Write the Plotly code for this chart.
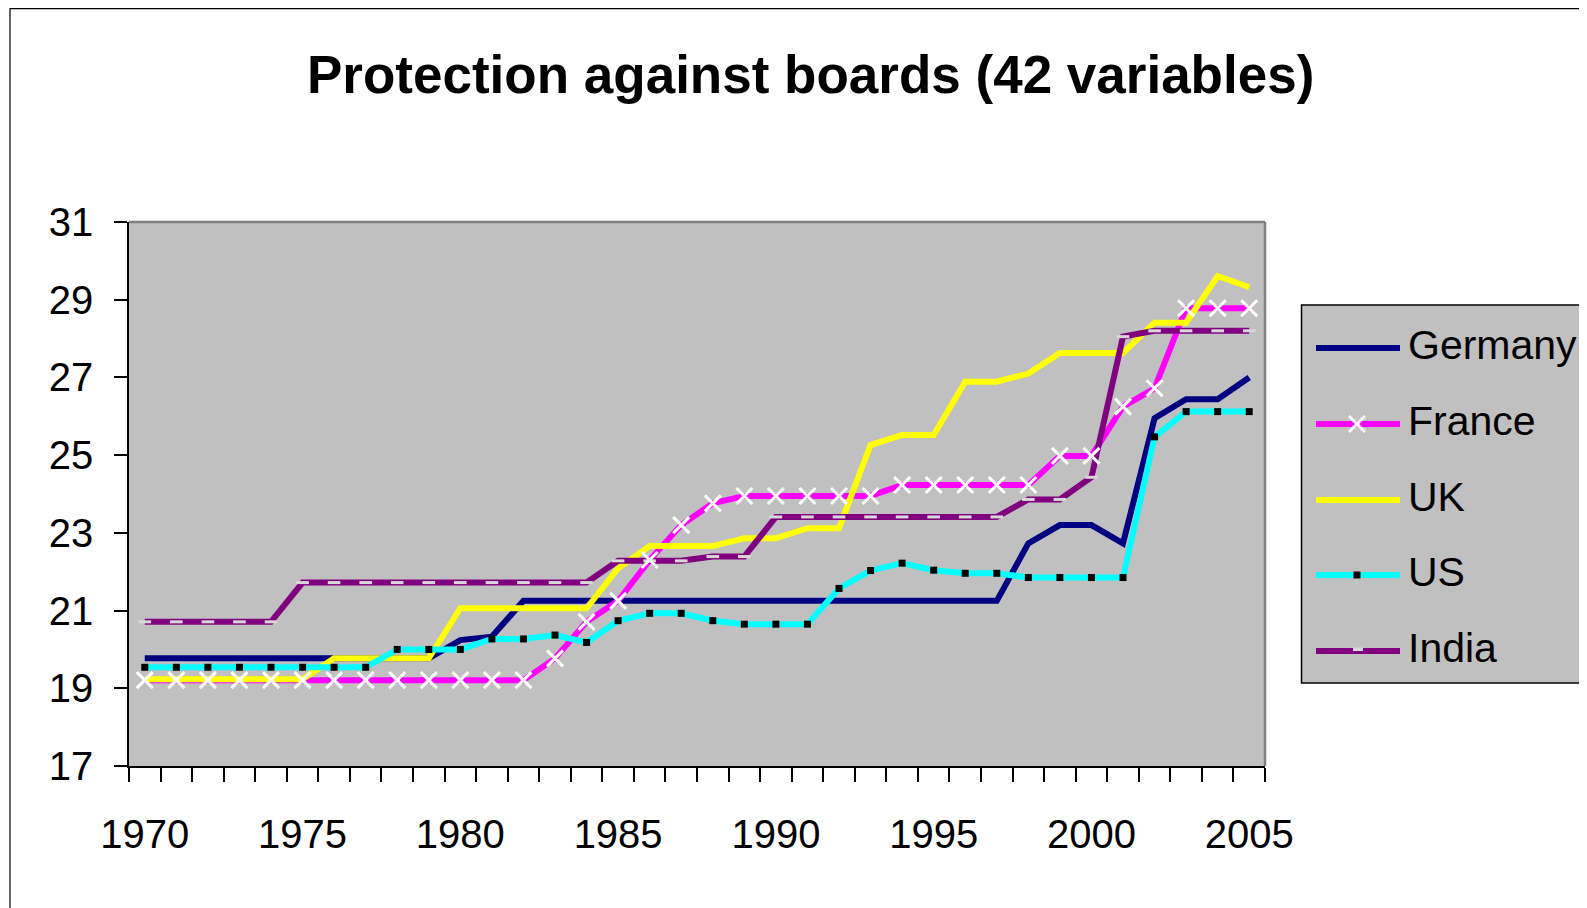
import plotly.graph_objects as go

years = list(range(1970, 2006))

germany = [19.77]*10 + [20.24, 20.33] + [21.25]*16 + [22.73, 23.2, 23.2, 22.73, 25.95, 26.44, 26.44, 27.0]
france = [19.21]*13 + [19.77, 20.71, 21.25, 22.3, 23.2, 23.76] + [23.95]*5 + [24.23]*5 + [24.98, 24.98, 26.25, 26.72] + [28.78]*3
uk = ([19.23]*6 + [19.77]*4 + [21.06]*5 + [22.09] + [22.66]*3 + [22.86]*2 + [23.12]*2 + [25.26]
      + [25.52]*2 + [26.89]*2 + [27.10] + [27.63]*3 + [28.41]*2 + [29.61, 29.32])
us = ([19.54]*8 + [20.0]*3 + [20.27, 20.27, 20.37, 20.18, 20.74, 20.93, 20.93, 20.74] + [20.65]*3
      + [21.57, 22.03, 22.22, 22.04, 21.96, 21.96] + [21.85]*4 + [25.47] + [26.12]*3)
india = [20.71]*5 + [21.72]*10 + [22.28]*3 + [22.39]*2 + [23.41]*8 + [23.86]*2 + [24.43, 28.05] + [28.2]*4

names = ["Germany", "France", "UK", "US", "India"]
colors = ["#000080", "#FF00FF", "#FFFF00", "#00FFFF", "#800080"]
series = [germany, france, uk, us, india]

FONT = "Liberation Sans, Arial, sans-serif"

# the page body adds 8px of margin, so the figure is drawn 8px smaller
OFF = 8
W, H = 1587 - OFF, 908 - OFF
# plot area in page pixels (left, right, top, bottom)
L, R, T, B = 129 - OFF, 1265 - OFF, 222 - OFF, 766 - OFF


def fx(px):
    return (px - OFF - L) / (R - L)


def fy(py):
    return (B - (py - OFF)) / (B - T)


fig = go.Figure()
for name, col, vals in zip(names, colors, series):
    fig.add_trace(go.Scatter(x=years, y=vals, mode="lines", name=name,
                             line=dict(color=col, width=6), showlegend=False))

# markers drawn on top of all lines, as in the original
fig.add_trace(go.Scatter(x=years, y=india, mode="markers", showlegend=False,
                         marker=dict(symbol="line-ew", size=9,
                                     line=dict(color="#D8D8D8", width=3))))
fig.add_trace(go.Scatter(x=years, y=france, mode="markers", showlegend=False,
                         marker=dict(symbol="x-thin", size=16,
                                     line=dict(color="white", width=3))))
fig.add_trace(go.Scatter(x=years, y=us, mode="markers", showlegend=False,
                         marker=dict(symbol="square", size=7, color="black")))

fig.update_xaxes(range=[1969.5, 2005.5], tickvals=list(range(1970, 2006, 5)),
                 ticks="outside", ticklen=14, tickcolor="rgba(0,0,0,0)",
                 ticklabelstandoff=18,
                 minor=dict(tickvals=[y - 0.5 for y in years] + [2005.5], ticks="outside",
                            ticklen=14, tickwidth=1.5, tickcolor="black"),
                 showline=True, linecolor="black", linewidth=1.5, showgrid=False,
                 zeroline=False, tickfont=dict(size=40, color="black", family=FONT))
fig.update_yaxes(range=[17, 31], tickvals=list(range(17, 32, 2)), ticks="outside",
                 ticklen=13, tickwidth=1.5, tickcolor="black", ticklabelstandoff=13,
                 showline=True, linecolor="black", linewidth=1.5, showgrid=False,
                 zeroline=False, tickfont=dict(size=40, color="black", family=FONT))

shapes = [
    # plot area border top / right
    dict(type="line", xref="paper", yref="paper", x0=0, x1=1, y0=1, y1=1,
         line=dict(color="#808080", width=2.5)),
    dict(type="line", xref="paper", yref="paper", x0=1, x1=1, y0=0, y1=1,
         line=dict(color="#808080", width=2.5)),
    # outer chart frame
    dict(type="line", xref="paper", yref="paper", x0=fx(10), x1=fx(1600), y0=fy(8.6), y1=fy(8.6),
         line=dict(color="black", width=1.2)),
    dict(type="line", xref="paper", yref="paper", x0=fx(10), x1=fx(10), y0=fy(8), y1=fy(920),
         line=dict(color="black", width=1.2)),
    # legend box
    dict(type="rect", xref="paper", yref="paper", x0=fx(1301.5), x1=fx(1620),
         y0=fy(683), y1=fy(305), fillcolor="#C0C0C0", line=dict(color="black", width=1.5)),
]

annotations = [
    dict(text="<b>Protection against boards (42 variables)</b>", xref="paper", yref="paper",
         x=fx(810), y=fy(74), xanchor="center", yanchor="middle", showarrow=False,
         font=dict(size=53, color="black", family=FONT)),
]

row_y = [348, 424, 500, 575, 651]
for name, col, ry in zip(names, colors, row_y):
    shapes.append(dict(type="line", xref="paper", yref="paper", x0=fx(1316), x1=fx(1400),
                       y0=fy(ry), y1=fy(ry), line=dict(color=col, width=6)))
    annotations.append(dict(text=name, xref="paper", yref="paper", x=fx(1406), y=fy(ry - 3),
                            xanchor="left", yanchor="middle", showarrow=False,
                            font=dict(size=41, color="black", family=FONT)))

# legend key markers
cx = 1357
shapes += [
    dict(type="line", xref="paper", yref="paper", x0=fx(cx - 8), x1=fx(cx + 8),
         y0=fy(424 - 8), y1=fy(424 + 8), line=dict(color="white", width=3)),
    dict(type="line", xref="paper", yref="paper", x0=fx(cx - 8), x1=fx(cx + 8),
         y0=fy(424 + 8), y1=fy(424 - 8), line=dict(color="white", width=3)),
    dict(type="rect", xref="paper", yref="paper", x0=fx(cx - 3.5), x1=fx(cx + 3.5),
         y0=fy(575 + 3.5), y1=fy(575 - 3.5), fillcolor="black", line=dict(width=0)),
    dict(type="rect", xref="paper", yref="paper", x0=fx(cx - 4), x1=fx(cx + 6),
         y0=fy(651), y1=fy(647.5), fillcolor="#D8D8D8", line=dict(width=0)),
]

fig.update_layout(width=W, height=H, autosize=False,
                  margin=dict(l=L, r=W - R, t=T, b=H - B),
                  paper_bgcolor="white", plot_bgcolor="#C0C0C0",
                  shapes=shapes, annotations=annotations,
                  font=dict(family=FONT, color="black"))

fig.write_html("out.html")
